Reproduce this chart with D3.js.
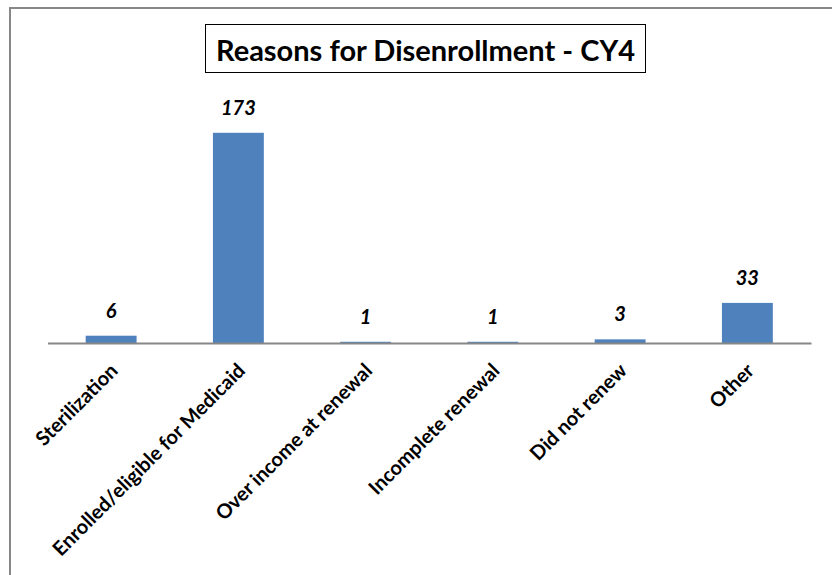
<!DOCTYPE html>
<html>
<head>
<meta charset="utf-8">
<script src="https://cdn.jsdelivr.net/npm/d3@7"></script>
<style>
  html, body { margin: 0; padding: 0; background: #fff; }
  svg { display: block; font-family: Lato, "Open Sans", sans-serif; }
</style>
</head>
<body>
<svg id="chart" width="832" height="575"></svg>
<script>
const title = "Reasons for Disenrollment - CY4";
const categories = ["Sterilization", "Enrolled/eligible for Medicaid", "Over income at renewal", "Incomplete renewal", "Did not renew", "Other"];
const values = [6, 173, 1, 1, 3, 33];
const yDomain = [0, 200];

const svg = d3.select("#chart");

// outer chart border
svg.append("rect")
  .attr("x", 10).attr("y", 8).attr("width", 840).attr("height", 600)
  .attr("fill", "none").attr("stroke", "#878787").attr("stroke-width", 2);

// title box
const tb = svg.append("g");
tb.append("rect")
  .attr("x", 205.5).attr("y", 24.5).attr("width", 440).attr("height", 48)
  .attr("fill", "#fff").attr("stroke", "#000").attr("stroke-width", 1);
tb.append("text")
  .attr("x", 425.5).attr("y", 49)
  .attr("text-anchor", "middle").attr("dominant-baseline", "central")
  .attr("font-size", 29).attr("font-weight", "bold").attr("fill", "#000")
  .text(title);

const x = d3.scaleBand().domain(categories).range([47.5, 811]).paddingInner(0.6).paddingOuter(0.3);
const y = d3.scaleLinear().domain(yDomain).range([343, 100]);

const g = svg.append("g");
g.selectAll("rect.bar").data(values).join("rect")
  .attr("class", "bar")
  .attr("x", (d, i) => x(categories[i]))
  .attr("width", x.bandwidth())
  .attr("y", d => y(d))
  .attr("height", d => y(0) - y(d))
  .attr("fill", "#4F81BD");

g.selectAll("text.val").data(values).join("text")
  .attr("class", "val")
  .attr("x", (d, i) => x(categories[i]) + x.bandwidth() / 2)
  .attr("y", d => y(d) - 18)
  .attr("text-anchor", "middle")
  .attr("font-size", 20).attr("font-weight", "bold").attr("font-style", "italic")
  .attr("fill", "#000")
  .text(d => d);

// x axis
const xAxis = d3.axisBottom(x).tickSize(0).tickPadding(0);
const ax = svg.append("g").attr("transform", `translate(0,${y(0)})`).call(xAxis);
ax.select(".domain").attr("stroke", "#878787").attr("stroke-width", 2);
ax.selectAll(".tick text")
  .attr("font-family", "Lato, 'Open Sans', sans-serif")
  .attr("font-size", 20).attr("font-weight", "bold").attr("fill", "#000")
  .attr("text-anchor", "end")
  .attr("dy", "0.35em")
  .attr("transform", "translate(3,24) rotate(-45)");
</script>
</body>
</html>
